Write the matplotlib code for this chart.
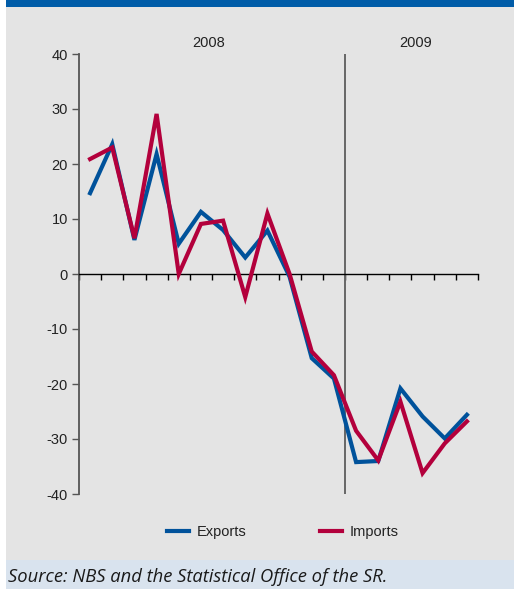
import matplotlib
matplotlib.use("Agg")
import matplotlib.pyplot as plt
from matplotlib.patches import Rectangle
from matplotlib.lines import Line2D

plt.rcParams['font.family'] = ['Liberation Sans', 'DejaVu Sans']
plt.rcParams['axes.unicode_minus'] = False

# Data: monthly y/y changes, Jan 2008 - Jun 2009
months = list(range(18))
exports = [14.7, 23.6, 6.2, 21.8, 5.5, 11.3, 8.0, 3.0, 7.9, -0.5,
           -15.3, -19.0, -34.2, -34.0, -20.8, -25.9, -29.9, -25.6]
imports = [20.9, 23.0, 6.5, 29.1, 0.0, 9.1, 9.7, -4.2, 11.0, 0.0,
           -14.1, -18.4, -28.5, -33.9, -23.2, -36.2, -30.8, -26.8]
years = ["2008", "2009"]
yticks = [40, 30, 20, 10, 0, -10, -20, -30, -40]
series_names = ["Exports", "Imports"]
source = "Source: NBS and the Statistical Office of the SR."

W, H = 514, 589
fig = plt.figure(figsize=(W / 100, H / 100), dpi=100, facecolor="white")

def fx(px):
    return px / W

def fy(py):
    return 1 - py / H

# background panels
fig.patches.append(Rectangle((fx(6), fy(560)), fx(508), 553 / H, transform=fig.transFigure,
                             facecolor="#e4e4e4", edgecolor="none", zorder=-2))
fig.patches.append(Rectangle((fx(6), fy(7)), fx(508), 7 / H, transform=fig.transFigure,
                             facecolor="#005ca8", edgecolor="none", zorder=-2))
fig.patches.append(Rectangle((fx(6), 0), fx(508), 29 / H, transform=fig.transFigure,
                             facecolor="#d9e3ee", edgecolor="none", zorder=-2))

ax = fig.add_axes([fx(79), fy(494), fx(399), 440 / H])
ax.set_zorder(2)
ax.set_facecolor("none")
ax.set_xlim(0, 18)
ax.set_ylim(-40, 40)

blue = "#00529b"
red = "#b3003c"
xs = [m + 0.5 for m in months]
ax.plot(xs, exports, color=blue, lw=3.0, solid_joinstyle="miter", zorder=3, clip_on=False)
ax.plot(xs, imports, color=red, lw=3.0, solid_joinstyle="miter", zorder=4, clip_on=False)

ax.axvline(12, color="#666666", lw=1.4, zorder=2)

for s in ["top", "right"]:
    ax.spines[s].set_visible(False)
ax.spines["left"].set_color("#555555")
ax.spines["left"].set_linewidth(1.3)
ax.spines["bottom"].set_position(("data", 0))
ax.spines["bottom"].set_color("black")
ax.spines["bottom"].set_linewidth(1.0)

ax.set_xticks(range(19))
ax.set_xticklabels([])
ax.tick_params(axis="x", direction="out", length=4, width=1, color="black")
ax.set_yticks(yticks)
ax.set_yticklabels([str(v) for v in yticks])
ax.tick_params(axis="y", direction="out", length=5, width=1, color="#555555",
               labelsize=10.5, labelcolor="#222222", pad=3)

ax.text(5.86, 40.8, years[0], ha="center", va="bottom", fontsize=10.5, color="#222222")
ax.text(15.2, 40.8, years[1], ha="center", va="bottom", fontsize=10.5, color="#222222")

handles = [Line2D([], [], color=blue, lw=3.0), Line2D([], [], color=red, lw=3.0)]
fig.legend(handles, series_names, loc="center", bbox_to_anchor=(fx(283), fy(532)),
           ncol=2, frameon=False, fontsize=10.5, handlelength=1.5, handletextpad=0.55,
           columnspacing=5.0, labelcolor="#222222")

fig.text(fx(8), fy(577), source, ha="left", va="center", fontsize=13.2, style="italic",
         family=["Liberation Sans Narrow", "Open Sans", "DejaVu Sans"], color="#1a1a1a")

fig.savefig("out.png", dpi=100, facecolor="white")
